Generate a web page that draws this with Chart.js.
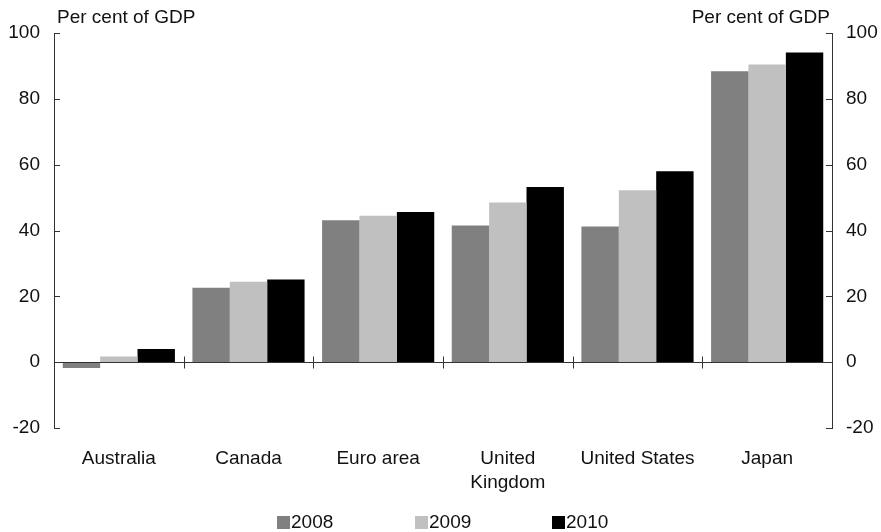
<!DOCTYPE html>
<html>
<head>
<meta charset="utf-8">
<script src="https://cdn.jsdelivr.net/npm/chart.js@4.4.1/dist/chart.umd.min.js"></script>
<style>
  html, body { margin: 0; padding: 0; background: #fff; }
  #wrap { position: relative; width: 881px; height: 532px; }
  #legend { position: absolute; left: 0; top: 512px; width: 881px; height: 20px;
    font-family: "Liberation Sans", Arial, sans-serif; font-size: 19px; color: #111; }
  .item { position: absolute; top: 0; display: flex; align-items: center; line-height: 20px; }
  .box { width: 13px; height: 13px; margin-right: 1px; }
</style>
</head>
<body>
<div id="wrap">
  <canvas id="c"></canvas>
  <div id="legend"></div>
</div>
<script>
const categories = ["Australia", "Canada", "Euro area", ["United", "Kingdom"], "United States", "Japan"];
const seriesNames = ["2008", "2009", "2010"];
const values2008 = [-1.8, 22.6, 43.1, 41.5, 41.2, 88.4];
const values2009 = [1.7, 24.4, 44.5, 48.5, 52.2, 90.4];
const values2010 = [4.0, 25.1, 45.6, 53.2, 58.0, 94.1];
const seriesColors = ["#808080", "#c0c0c0", "#000000"];
const yMin = -20, yMax = 100, yStep = 20;
const axisTitle = "Per cent of GDP";

const FONT = '"Liberation Sans", Arial, sans-serif';
const FS = 19;
const TXT = '#111';

const decoPlugin = {
  id: 'deco',
  afterDatasetsDraw(chart) {
    const { ctx, chartArea, scales } = chart;
    const x = scales.x, yl = scales.y, yr = scales.y2;
    ctx.save();
    ctx.strokeStyle = '#333';
    ctx.lineWidth = 1;
    ctx.beginPath();
    const y0 = Math.round(yl.getPixelForValue(0)) + 0.5;
    ctx.moveTo(chartArea.left, y0);
    ctx.lineTo(chartArea.right, y0);
    for (let i = 1; i < categories.length; i++) {
      const bx = Math.round((x.getPixelForValue(i - 1) + x.getPixelForValue(i)) / 2) + 0.5;
      ctx.moveTo(bx, y0 - 6);
      ctx.lineTo(bx, y0 + 6);
    }
    yl.ticks.forEach(t => {
      const py = Math.round(yl.getPixelForValue(t.value)) + 0.5;
      ctx.moveTo(chartArea.left, py);
      ctx.lineTo(chartArea.left + 6, py);
    });
    yr.ticks.forEach(t => {
      const py = Math.round(yr.getPixelForValue(t.value)) + 0.5;
      ctx.moveTo(chartArea.right, py);
      ctx.lineTo(chartArea.right - 6, py);
    });
    ctx.stroke();
    ctx.fillStyle = TXT;
    ctx.font = FS + 'px ' + FONT;
    ctx.textBaseline = 'alphabetic';
    ctx.textAlign = 'left';
    ctx.fillText(axisTitle, chartArea.left + 3, 23);
    ctx.textAlign = 'right';
    ctx.fillText(axisTitle, chartArea.right - 2, 23);
    ctx.restore();
  }
};

const yCommon = {
  min: yMin, max: yMax,
  grid: { display: false, drawTicks: false },
  border: { display: true, color: '#333', width: 1 },
  ticks: { stepSize: yStep, padding: 14, color: TXT, font: { family: FONT, size: FS } }
};

new Chart(document.getElementById('c'), {
  type: 'bar',
  data: {
    labels: categories,
    datasets: [
      { label: seriesNames[0], data: values2008, backgroundColor: seriesColors[0] },
      { label: seriesNames[1], data: values2009, backgroundColor: seriesColors[1] },
      { label: seriesNames[2], data: values2010, backgroundColor: seriesColors[2] }
    ]
  },
  options: {
    responsive: true,
    maintainAspectRatio: false,
    animation: false,
    layout: { padding: { top: 33, left: 0, right: 0, bottom: 0 } },
    datasets: { bar: { categoryPercentage: 0.865, barPercentage: 1.0, borderWidth: 0 } },
    plugins: { legend: { display: false }, tooltip: { enabled: false } },
    scales: {
      x: {
        grid: { display: false, drawTicks: false },
        border: { display: false },
        ticks: { padding: 18, color: TXT, maxRotation: 0, autoSkip: false,
          font: { family: FONT, size: FS, lineHeight: 1.3 } },
        afterFit(s) { s.height = 104; }
      },
      y: Object.assign({}, yCommon, { position: 'left', afterFit(s) { s.width = 54; } }),
      y2: Object.assign({}, yCommon, { position: 'right', afterFit(s) { s.width = 49; } })
    }
  },
  plugins: [decoPlugin]
});

const legendEl = document.getElementById('legend');
const legendX = [277, 415, 552];
seriesNames.forEach((name, i) => {
  const it = document.createElement('div');
  it.className = 'item';
  it.style.left = legendX[i] + 'px';
  const b = document.createElement('span');
  b.className = 'box';
  b.style.background = seriesColors[i];
  const t = document.createElement('span');
  t.textContent = name;
  it.appendChild(b); it.appendChild(t);
  legendEl.appendChild(it);
});
</script>
</body>
</html>
